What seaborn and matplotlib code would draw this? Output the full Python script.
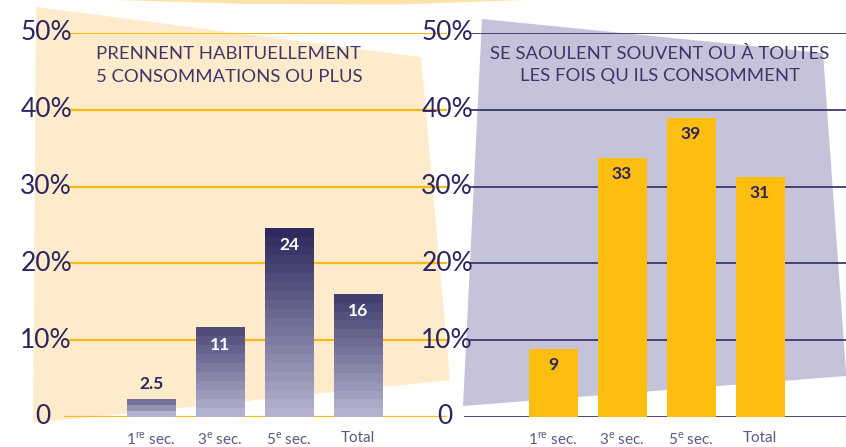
import numpy as np
import pandas as pd
import matplotlib
matplotlib.use("Agg")
import matplotlib.pyplot as plt
import matplotlib.transforms as mtransforms
from matplotlib.patches import Polygon
from matplotlib.colors import to_rgb
import seaborn as sns

# ---------------- data ----------------
categories = ["1re sec.", "3e sec.", "5e sec.", "Total"]
xtick_labels = [r"1$^{\mathregular{re}}$ sec.", r"3$^{\mathregular{e}}$ sec.",
                r"5$^{\mathregular{e}}$ sec.", "Total"]
heavy_values = [2.3, 11.6, 24.6, 16.0]        # drawn heights (left panel)
heavy_labels = ["2.5", "11", "24", "16"]
binge_values = [8.8, 33.7, 38.9, 31.2]        # drawn heights (right panel)
binge_labels = ["9", "33", "39", "31"]
yticks = [0, 10, 20, 30, 40, 50]
ytick_labels = ["0", "10%", "20%", "30%", "40%", "50%"]
left_title = ["PRENNENT HABITUELLEMENT", "5 CONSOMMATIONS OU PLUS"]
right_title = ["SE SAOULENT SOUVENT OU À TOUTES", "LES FOIS QU ILS CONSOMMENT"]

# ---------------- style ----------------
sns.set_theme(style="white")
plt.rcParams["font.family"] = ["Lato", "DejaVu Sans"]
plt.rcParams["mathtext.fontset"] = "custom"
plt.rcParams["mathtext.rm"] = "Lato"

NAVY = "#2B2660"
TITLE_C = "#3D3768"
XLAB_C = "#5B5882"
GOLD = "#FBB917"
BAR_GOLD = "#FDBE10"
CREAM = "#FEEBCB"
LAV = "#C5C3D9"
DARK = np.array(to_rgb("#2E2A5E"))
LIGHT = np.array(to_rgb("#B3B2CE"))

W, H = 846, 447
fig = plt.figure(figsize=(W / 100, H / 100), dpi=100)


def fp(x, y):
    return (x / W, 1 - y / H)


# background shapes
fig.add_artist(Polygon([fp(36, 7), fp(421, 57), fp(450, 380), fp(33, 423)],
                       closed=True, transform=fig.transFigure, facecolor=CREAM,
                       edgecolor="none", zorder=-2))
fig.add_artist(Polygon([fp(115, 0), fp(250, 4), fp(400, 4.5), fp(525, 0)],
                       closed=True, transform=fig.transFigure, facecolor="#FDE3A8",
                       edgecolor="none", zorder=-2))
fig.add_artist(Polygon([fp(482, 19), fp(823, 53), fp(846, 372), fp(846, 376), fp(463, 406)],
                       closed=True, transform=fig.transFigure, facecolor=LAV,
                       edgecolor="none", zorder=-2))

axL = fig.add_axes([64 / W, 30 / H, 383 / W, 384 / H])
axR = fig.add_axes([464 / W, 30 / H, 382 / W, 384 / H])

dfL = pd.DataFrame({"cat": categories, "val": heavy_values})
dfR = pd.DataFrame({"cat": categories, "val": binge_values})

sns.barplot(data=dfL, x="cat", y="val", ax=axL, color="#7A76A0", width=0.70,
            saturation=1, linewidth=0, edgecolor="none", zorder=2)
sns.barplot(data=dfR, x="cat", y="val", ax=axR, color=BAR_GOLD, width=0.71,
            saturation=1, linewidth=0, edgecolor="none", zorder=2)

# gradient fill for left bars
for p in axL.patches:
    x0, w, h = p.get_x(), p.get_width(), p.get_height()
    t_top = 0.3 + 0.7 * (h / 24.6) ** 0.6
    npx = h * 7.68
    n = max(3, int(round(npx / 9)))
    ts = np.linspace(t_top, 0.0, n)
    cols = LIGHT[None, :] + ts[:, None] * (DARK - LIGHT)[None, :]
    axL.imshow(cols[:, None, :], extent=[x0, x0 + w, 0, h], aspect="auto",
               interpolation="nearest", zorder=2.1)
    p.set_facecolor("none")

for ax, grid_c, lw, xs0 in [(axL, GOLD, 1.6, 0.0157), (axR, "#2E2A62", 1.2, 0.0157)]:
    ax.set_facecolor("none")
    for s in ax.spines.values():
        s.set_visible(False)
    for v in yticks:
        ax.axhline(v, xmin=(0.0 if v == 0 else xs0), xmax=1, color=grid_c, lw=lw,
                   zorder=0.5)
    ax.set_yticks([])
    ax.set_xticks(range(len(categories)))
    ax.set_xticklabels(xtick_labels, fontsize=11, color=XLAB_C)
    ax.tick_params(axis="x", length=0, pad=10)
    ax.set_xlabel("")
    ax.set_ylabel("")

axL.set_xlim(-1.261, 4.290)
axR.set_xlim(-1.290, 4.246)
axL.set_ylim(0, 50)
axR.set_ylim(0, 50)

# y tick labels
for ax, xr, x0r in [(axL, 0.0209, -0.034), (axR, 0.0236, -0.029)]:
    tr = mtransforms.blended_transform_factory(ax.transAxes, ax.transData)
    for v, lab in zip(yticks, ytick_labels):
        ax.text(xr if v else x0r, v, lab, transform=tr, ha="right", va="center",
                fontsize=19, color=NAVY, fontweight="normal", zorder=3, clip_on=False)

# value labels
for i, (v, lab) in enumerate(zip(heavy_values, heavy_labels)):
    if v < 5:
        axL.annotate(lab, (i, v), xytext=(0, 11), textcoords="offset points",
                     ha="center", va="center", fontsize=12.5, fontweight="bold",
                     color=NAVY, zorder=4)
    else:
        axL.annotate(lab, (i, v), xytext=(0, -12), textcoords="offset points",
                     ha="center", va="center", fontsize=12.5, fontweight="bold",
                     color="white", zorder=4)
for i, (v, lab) in enumerate(zip(binge_values, binge_labels)):
    axR.annotate(lab, (i, v), xytext=(0, -11.5), textcoords="offset points",
                 ha="center", va="center", fontsize=12.5, fontweight="bold",
                 color=NAVY, zorder=4)

# panel titles
for k, line in enumerate(left_title):
    fig.text(96 / W, 1 - (54 + 23 * k) / H, line, ha="left", va="center",
             fontsize=13.3, color=TITLE_C)
for k, line in enumerate(right_title):
    fig.text(660 / W, 1 - (54 + 22 * k) / H, line, ha="center", va="center",
             fontsize=13.3, color=TITLE_C)

fig.savefig("out.png", dpi=100)
